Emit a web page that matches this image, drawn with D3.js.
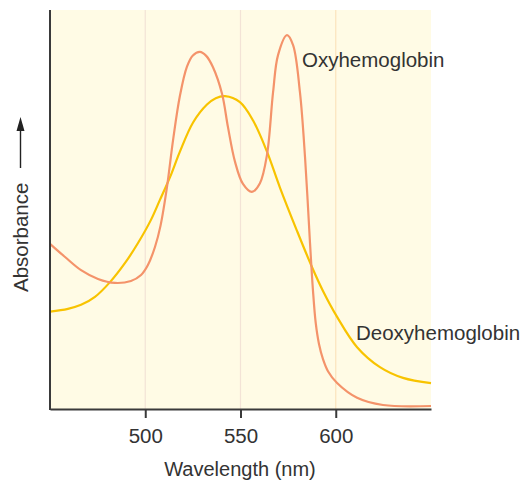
<!DOCTYPE html>
<html>
<head>
<meta charset="utf-8">
<script src="https://cdn.jsdelivr.net/npm/d3@7"></script>
<style>
  body { margin: 0; background: #fff; }
  svg { display: block; font-family: "Liberation Sans", Arial, sans-serif; }
</style>
</head>
<body>
<script>
// chart size
const width = 521;
const height = 480;
const margin = { top: 10, right: 90, bottom: 71, left: 50 };

// data: wavelength (nm) and relative absorbance
const oxyWave = [450, 457.9, 466.3, 475.2, 484.1, 492.5, 497.8, 501.4, 505.1, 508, 511.4, 514.6, 518.2, 521.9, 525, 528.7, 532, 535.5, 540.3, 543.4, 547.1, 551.3, 556, 560.2, 563.9, 567.1, 569.7, 574.4, 577.6, 581.2, 583.9, 586.5, 588, 589.5, 591.2, 593.3, 596, 600.7, 611.2, 624.8, 650];
const oxyAbs  = [41.4, 38.1, 34.8, 32.6, 31.6, 32.1, 33.6, 36.1, 40.6, 45.9, 55.6, 67.4, 78.5, 85.8, 88.6, 89.5, 88.5, 85.7, 79, 70.7, 62, 56.4, 54.4, 56.6, 63.7, 79.4, 88.7, 93.7, 91.2, 79.4, 62.9, 41.5, 30, 21.5, 16.3, 12.5, 9.4, 6.5, 2.8, 1, 0.75];

const deoxyWave = [450, 459.4, 466.3, 473.6, 481.5, 489.4, 496.2, 503, 507.7, 513, 518.2, 525.1, 532.4, 537, 541.9, 549.7, 556.6, 563.9, 570.7, 579.7, 587.5, 593.3, 600.7, 611.2, 623.2, 635.3, 650];
const deoxyAbs  = [24.4, 25.1, 26.1, 28.1, 31.8, 36.6, 41.6, 47.4, 52.4, 58.1, 64.5, 71.8, 76.3, 77.9, 78.4, 76.9, 72.3, 64.5, 55.5, 44.6, 35.6, 29.6, 23.1, 15.5, 10.5, 7.8, 6.5];

const xTicks = [500, 550, 600];

const svg = d3.select('body').append('svg')
  .attr('width', width).attr('height', height);

const xScale = d3.scaleLinear().domain([450, 650])
  .range([margin.left, width - margin.right]);
const yScale = d3.scaleLinear().domain([0, 100])
  .range([height - margin.bottom, margin.top]);

// plot background
svg.append('rect')
  .attr('x', margin.left).attr('y', margin.top)
  .attr('width', xScale(650) - xScale(450))
  .attr('height', yScale(0) - yScale(100))
  .attr('fill', '#fffbe5');

// faint vertical grid
svg.append('g').selectAll('line').data(xTicks).enter().append('line')
  .attr('x1', d => xScale(d)).attr('x2', d => xScale(d))
  .attr('y1', yScale(100)).attr('y2', yScale(0))
  .attr('stroke', (d, i) => i == 2 ? '#fbe3bd' : '#f3e3d6')
  .attr('stroke-width', 1.2);

// curves
const line = d3.line().curve(d3.curveCatmullRom.alpha(0.5))
  .x(d => xScale(d[0])).y(d => yScale(d[1]));

svg.append('path')
  .datum(deoxyWave.map((w, i) => [w, deoxyAbs[i]]))
  .attr('d', line).attr('fill', 'none')
  .attr('stroke', '#f8c300').attr('stroke-width', 2.2);

svg.append('path')
  .datum(oxyWave.map((w, i) => [w, oxyAbs[i]]))
  .attr('d', line).attr('fill', 'none')
  .attr('stroke', '#f4936a').attr('stroke-width', 2.2);

// x axis
const xAxis = svg.append('g')
  .attr('transform', `translate(0, ${yScale(0)})`)
  .call(d3.axisBottom(xScale).tickValues(xTicks).tickSize(9).tickSizeOuter(0).tickPadding(10));
xAxis.select('.domain').attr('stroke', '#3a3a3a').attr('stroke-width', 2);
xAxis.selectAll('.tick line').attr('stroke', '#3a3a3a').attr('stroke-width', 2);
xAxis.selectAll('.tick text').attr('fill', '#333').attr('font-size', 20.5)
  .attr('font-family', '"Liberation Sans", Arial, sans-serif');

// y axis line only
svg.append('line')
  .attr('x1', margin.left).attr('x2', margin.left)
  .attr('y1', yScale(100)).attr('y2', yScale(0) + 1)
  .attr('stroke', '#3a3a3a').attr('stroke-width', 2);

// series labels
svg.append('text').attr('x', 302).attr('y', 67)
  .attr('font-size', 20.5).attr('fill', '#333').text('Oxyhemoglobin');
svg.append('text').attr('x', 356).attr('y', 340)
  .attr('font-size', 20.5).attr('fill', '#333').text('Deoxyhemoglobin');

// axis titles
svg.append('text').attr('x', 240).attr('y', 476)
  .attr('text-anchor', 'middle').attr('font-size', 20)
  .attr('fill', '#333').text('Wavelength (nm)');

svg.append('text')
  .attr('transform', 'translate(28, 292) rotate(-90)')
  .attr('font-size', 20.5).attr('fill', '#333').text('Absorbance');

// arrow next to Absorbance
svg.append('line')
  .attr('x1', 20.5).attr('x2', 20.5).attr('y1', 168).attr('y2', 128)
  .attr('stroke', '#222').attr('stroke-width', 1.4);
svg.append('path')
  .attr('d', 'M20.5,117 L24.5,131 L16.5,131 Z')
  .attr('fill', '#222');
</script>
</body>
</html>
